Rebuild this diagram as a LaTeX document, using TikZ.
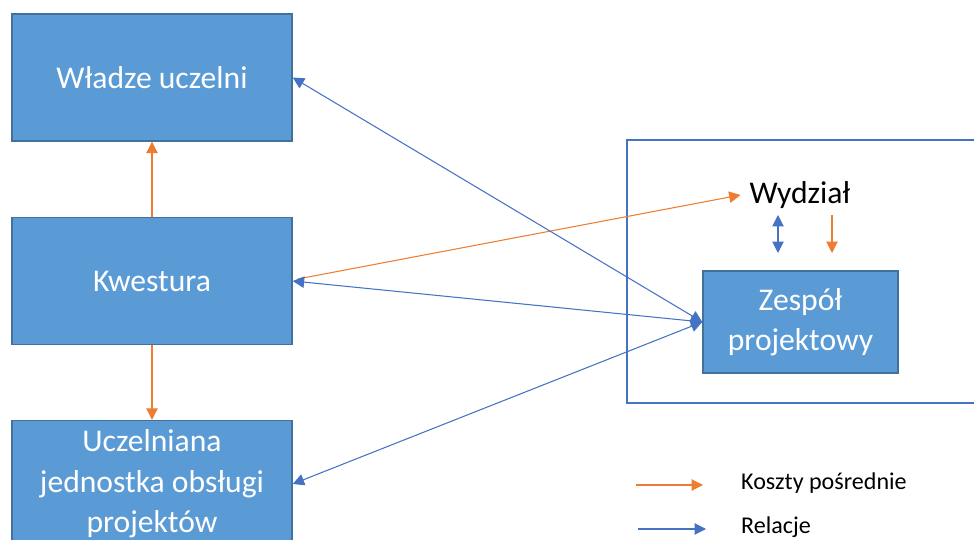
\documentclass[tikz,border=0pt]{standalone}
\usepackage{fontspec}
\setmainfont{Carlito}
\usetikzlibrary{arrows.meta}
\definecolor{boxfill}{HTML}{5B9BD5}
\definecolor{boxline}{HTML}{41719C}
\definecolor{koszt}{HTML}{ED7D31}
\definecolor{relacja}{HTML}{4472C4}
\tikzset{
  jednostka/.style={draw=boxline, fill=boxfill, line width=0.8pt, text=white,
    align=center, font=\fontsize{18}{23}\selectfont, inner sep=0pt},
  koszty/.style={draw=koszt, line width=0.6pt, -{Triangle[length=6.5pt,width=6.5pt]}},
  relacje/.style={draw=relacja, line width=0.6pt, -{Triangle[length=6.5pt,width=6.5pt]}},
  obie/.style={{Triangle[length=6.5pt,width=6.5pt]}-{Triangle[length=6.5pt,width=6.5pt]}},
}
\begin{document}
\begin{tikzpicture}[x=0.02cm,y=-0.02cm]
   \useasboundingbox (0,0) rectangle (974,540);
   \clip (0,0) rectangle (974,540);
   % jednostki uczelni
   \node[jednostka, minimum width=280*0.02cm, minimum height=127*0.02cm] (wladze) at (152,77.5) {Władze uczelni};
   \node[jednostka, minimum width=280*0.02cm, minimum height=127*0.02cm] (kwestura) at (152,281) {Kwestura};
   \node[jednostka, minimum width=280*0.02cm, minimum height=127*0.02cm] (ujop) at (152,484) {Uczelniana\\jednostka obsługi\\projektów};

   % wydzial
   \draw[relacja, line width=0.8pt] (627,140) rectangle (990,403);
   \node[font=\fontsize{18}{23}\selectfont, inner sep=5pt] (wydzial) at (800,195) {Wydział};
   \node[jednostka, minimum width=195*0.02cm, minimum height=102*0.02cm] (zespol) at (800.5,322) {Zespół\\projektowy};

   \coordinate (w1) at (778,215); \coordinate (z1) at (778,253);
   \coordinate (w2) at (832,215); \coordinate (z2) at (832,253);
   \draw[relacje, obie] (w1) -- (z1);
   \draw[koszty] (w2) -- (z2);

   % koszty posrednie
   \draw[koszty] (kwestura.north) -- (wladze.south);
   \draw[koszty] (kwestura.south) -- (ujop.north);
   \draw[koszty] ([xshift=5*0.02cm,yshift=2*0.02cm]kwestura.east) -- (wydzial.west);

   % relacje
   \draw[relacje, obie] (zespol.west) -- (wladze.east);
   \draw[relacje, obie] (zespol.west) -- (kwestura.east);
   \draw[relacje, obie] (zespol.west) -- (ujop.east);

   % legenda
   \coordinate (k1) at (636,485); \coordinate (k2) at (703,485);
   \coordinate (r1) at (638,529); \coordinate (r2) at (706,529);
   \draw[koszty] (k1) -- (k2);
   \draw[relacje] (r1) -- (r2);
   \node[anchor=west, font=\fontsize{13.7}{16}\selectfont] (lkoszty) at (735,483) {Koszty pośrednie};
   \node[anchor=west, font=\fontsize{13.7}{16}\selectfont] (lrelacje) at (735,527) {Relacje};
\end{tikzpicture}
\end{document}
